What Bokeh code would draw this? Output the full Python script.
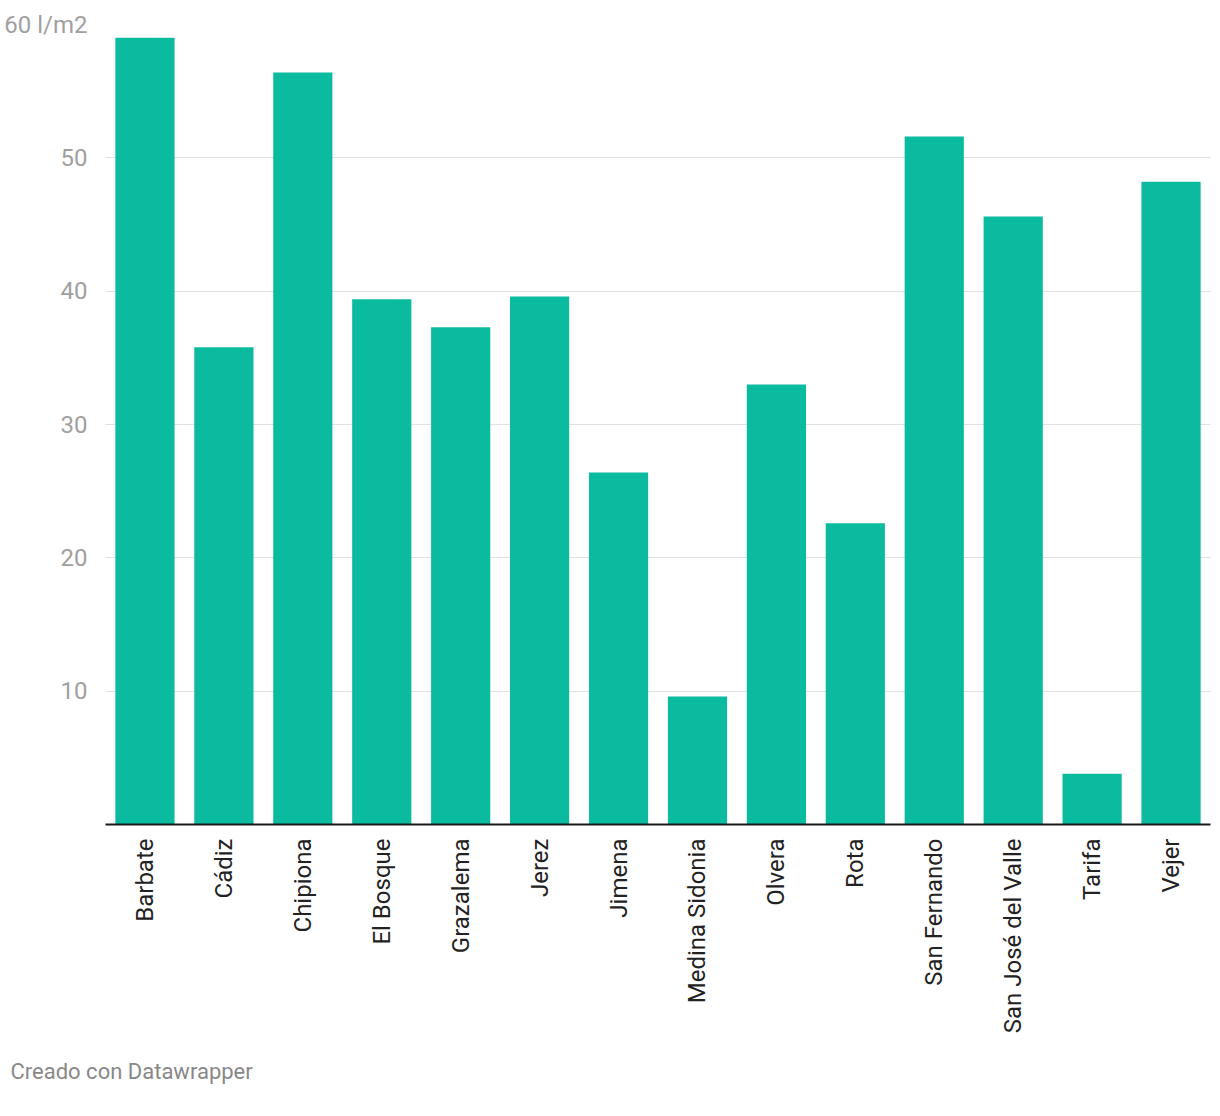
from bokeh.plotting import figure
from bokeh.models import FixedTicker, Title
from bokeh.embed import file_html
from bokeh.resources import INLINE
import math

towns = ["Barbate", "Cádiz", "Chipiona", "El Bosque", "Grazalema", "Jerez", "Jimena",
         "Medina Sidonia", "Olvera", "Rota", "San Fernando", "San José del Valle",
         "Tarifa", "Vejer"]
rain = [59.0, 35.8, 56.4, 39.4, 37.3, 39.6, 26.4, 9.6, 33.0, 22.6, 51.6, 45.6, 3.8, 48.2]
y_ticks = [10, 20, 30, 40, 50, 60]
y_labels = {10: "10", 20: "20", 30: "30", 40: "40", 50: "50", 60: "60 l/m2"}

p = figure(x_range=towns, y_range=(0, 60), width=1212, height=1108,
           output_backend="svg", toolbar_location=None,
           min_border_left=105, min_border_right=2, min_border_top=24, min_border_bottom=284)
p.vbar(x=towns, top=rain, width=0.75, color="#0bbba0", line_color=None)

p.outline_line_color = None
p.xgrid.grid_line_color = None
p.ygrid.grid_line_color = "#e0e0e0"
p.ygrid.grid_line_width = 1
p.ygrid.ticker = FixedTicker(ticks=y_ticks)

p.yaxis.ticker = FixedTicker(ticks=y_ticks)
p.yaxis.major_label_overrides = y_labels
p.yaxis.axis_line_color = None
p.yaxis.major_tick_line_color = None
p.yaxis.minor_tick_line_color = None
p.yaxis.major_label_standoff = 12
p.yaxis.major_label_text_font = "Roboto"
p.yaxis.major_label_text_font_size = "24px"
p.yaxis.major_label_text_color = "#a0a0a0"

p.xaxis.axis_line_color = "#1a1a1a"
p.xaxis.axis_line_width = 2
p.xaxis.major_tick_line_color = None
p.xaxis.minor_tick_line_color = None
p.xaxis.major_label_orientation = math.pi / 2
p.xaxis.major_label_standoff = 8
p.xaxis.major_label_text_font = "Roboto"
p.xaxis.major_label_text_font_size = "24px"
p.xaxis.major_label_text_color = "#222222"

footer = Title(text="Creado con Datawrapper", align="left", offset=-95,
               text_font="Roboto", text_font_size="22px", text_font_style="normal",
               text_color="#888888", standoff=40)
p.add_layout(footer, "below")

open("out.html", "w").write(file_html(p, INLINE))
